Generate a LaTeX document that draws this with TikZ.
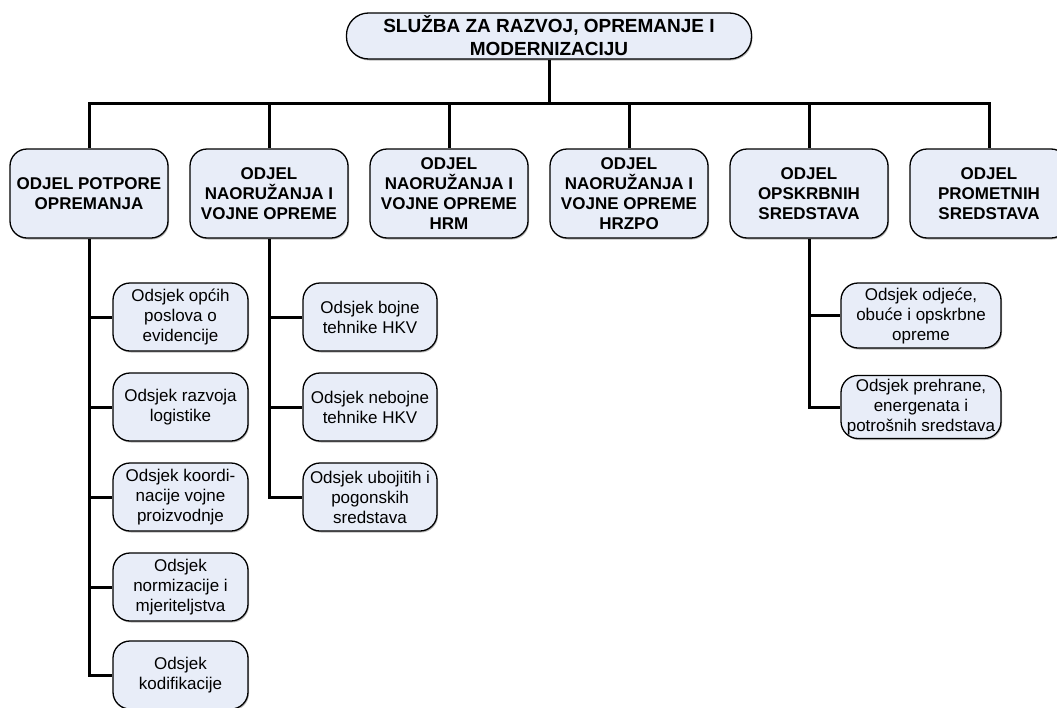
\documentclass[tikz,border=0pt]{standalone}
\usepackage{fontspec}
\setmainfont{Liberation Sans}
\usetikzlibrary{shadows}
\definecolor{boxfill}{RGB}{232,237,248}
\tikzset{
  base/.style={draw=black, line width=1.3pt, fill=boxfill, rounded corners=17pt, align=center, inner sep=0pt,
    drop shadow={shadow xshift=1pt, shadow yshift=-1.5pt, fill=black!45, opacity=0.6}},
  topbox/.style={base, minimum width=405pt, minimum height=46pt, rounded corners=22pt, font=\fontsize{19}{23}\selectfont\bfseries},
  deptbox/.style={base, minimum width=158pt, minimum height=89pt, font=\fontsize{17}{20}\selectfont\bfseries},
  subbox/.style={base, minimum height=68pt, font=\fontsize{17}{20}\selectfont},
  conn/.style={line width=3pt, draw=black}
}
\begin{document}
\begin{tikzpicture}[x=1pt,y=-1pt]
\useasboundingbox (0,0) rectangle (1057,707);
% top
\node[topbox] (top) at (549,36) {SLUŽBA ZA RAZVOJ, OPREMANJE I\\MODERNIZACIJU};
\coordinate (bar) at (549,103);
% departments
\node[deptbox] (d1) at (89,193.5) {ODJEL POTPORE\\OPREMANJA};
\node[deptbox] (d2) at (269,193.5) {ODJEL\\NAORUŽANJA I\\VOJNE OPREME};
\node[deptbox] (d3) at (449,193.5) {ODJEL\\NAORUŽANJA I\\VOJNE OPREME\\HRM};
\node[deptbox] (d4) at (629,193.5) {ODJEL\\NAORUŽANJA I\\VOJNE OPREME\\HRZPO};
\node[deptbox] (d5) at (809,193.5) {ODJEL\\OPSKRBNIH\\SREDSTAVA};
\node[deptbox] (d6) at (989,193.5) {ODJEL\\PROMETNIH\\SREDSTAVA};
% column 1
\node[subbox, minimum width=135pt] (a1) at (180.5,317) {Odsjek općih\\poslova o\\evidencije};
\node[subbox, minimum width=135pt] (a2) at (180.5,407) {Odsjek razvoja\\logistike};
\node[subbox, minimum width=135pt] (a3) at (180.5,497) {Odsjek koordi-\\nacije vojne\\proizvodnje};
\node[subbox, minimum width=135pt] (a4) at (180.5,587) {Odsjek\\normizacije i\\mjeriteljstva};
\node[subbox, minimum width=135pt] (a5) at (180.5,675) {Odsjek\\kodifikacije};
% column 2
\node[subbox, minimum width=134pt] (b1) at (370,317) {Odsjek bojne\\tehnike HKV};
\node[subbox, minimum width=134pt] (b2) at (370,407) {Odsjek nebojne\\tehnike HKV};
\node[subbox, minimum width=134pt] (b3) at (370,497) {Odsjek ubojitih i\\pogonskih\\sredstava};
% column 5
\node[subbox, minimum width=160pt, minimum height=65pt] (e1) at (921,315.5) {Odsjek odjeće,\\obuće i opskrbne\\opreme};
\node[subbox, minimum width=160pt, minimum height=63pt] (e2) at (921,407) {Odsjek prehrane,\\energenata i\\potrošnih sredstava};
% connectors top
\draw[conn] (top.south) -- (bar);
\draw[conn] (d1.north) -- (d1.north |- bar) -- (d6.north |- bar) -- (d6.north);
\foreach \n in {d2,d3,d4,d5} \draw[conn] (\n.north) -- (\n.north |- bar);
% column connectors
\draw[conn] (d1.south) |- (a5.west);
\foreach \n in {a1,a2,a3,a4} \draw[conn] (d1.south |- \n.west) -- (\n.west);
\draw[conn] (d2.south) |- (b3.west);
\foreach \n in {b1,b2} \draw[conn] (d2.south |- \n.west) -- (\n.west);
\draw[conn] (d5.south) |- (e2.west);
\draw[conn] (d5.south |- e1.west) -- (e1.west);
\end{tikzpicture}
\end{document}
